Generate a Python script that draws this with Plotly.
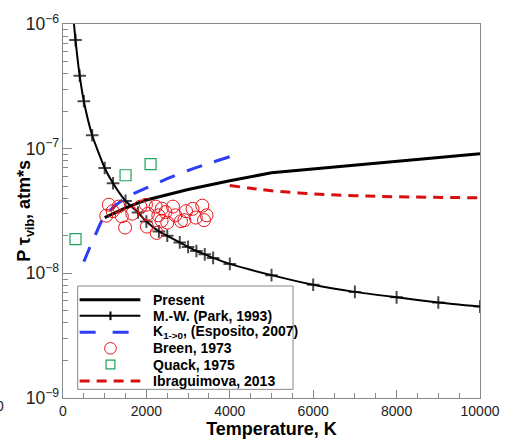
import plotly.graph_objects as go

# ---- data ----
park_T = [250, 300, 400, 500, 700, 1000, 1200, 1500, 1800, 2000, 2300, 2500, 2800, 3000,
          3200, 3400, 3600, 4000, 5000, 6000, 7000, 8000, 9000, 10000]
park_P = [1.12e-6, 7.43e-7, 3.85e-7, 2.40e-7, 1.28e-7, 7.0e-8, 5.28e-8, 3.81e-8, 3.08e-8, 2.60e-8,
          2.17e-8, 2.00e-8, 1.77e-8, 1.63e-8, 1.51e-8, 1.42e-8, 1.33e-8, 1.19e-8, 9.67e-9,
          8.09e-9, 7.10e-9, 6.42e-9, 5.84e-9, 5.41e-9]

present_T = [1000, 1500, 2000, 3000, 4000, 5000, 10000]
present_P = [2.8e-8, 3.35e-8, 3.88e-8, 4.70e-8, 5.53e-8, 6.41e-8, 9.1e-8]

esposito_T = [500, 600, 800, 1000, 1500, 2000, 2500, 3000, 3500, 4000]
esposito_P = [1.24e-8, 1.49e-8, 2.12e-8, 2.87e-8, 4.02e-8, 4.84e-8, 5.74e-8, 6.68e-8, 7.62e-8, 8.63e-8]

breen_T = [1098, 1192, 1333, 1489, 1411, 1661, 1856, 1989, 2036, 2012, 2247, 2223, 2286, 2364,
           2458, 2638, 2692, 2912, 2950, 3107, 3185, 3341, 3381, 3442, 1037, 2500, 2830, 2370]
breen_P = [3.55e-8, 3.15e-8, 3.43e-8, 2.33e-8, 2.87e-8, 3.01e-8, 3.43e-8, 3.55e-8, 3.01e-8, 2.37e-8,
           2.11e-8, 3.43e-8, 2.92e-8, 2.64e-8, 3.10e-8, 3.43e-8, 2.92e-8, 2.67e-8, 3.15e-8, 3.29e-8,
           2.80e-8, 3.49e-8, 2.67e-8, 2.92e-8, 2.90e-8, 2.55e-8, 2.62e-8, 3.30e-8]

quack_T = [300, 1500, 2100]
quack_P = [1.88e-8, 6.12e-8, 7.53e-8]

ibra_T = [4000, 4500, 5000, 6000, 7000, 8000, 10000]
ibra_P = [5.07e-8, 4.81e-8, 4.60e-8, 4.34e-8, 4.20e-8, 4.11e-8, 4.04e-8]

x_ticks = [0, 2000, 4000, 6000, 8000, 10000]

legend_names = ["Present", "M.-W. (Park, 1993)", "K<sub>1-&gt;0</sub>, (Esposito, 2007)",
                "Breen, 1973", "Quack, 1975", "Ibraguimova, 2013"]

# ---- styles ----
C_BLACK = "black"
C_BLUE = "#2f3cf5"
C_RED_O = "#e8141a"
C_GREEN = "#1fa35c"
C_RED_D = "#d80f0f"
DASH_BLUE = "16px,13px"
DASH_RED = "10px,7px"
axis_col = "#888888"

fig = go.Figure()

fig.add_trace(go.Scatter(x=present_T, y=present_P, mode="lines", name=legend_names[0],
                         line=dict(color=C_BLACK, width=3)))
park_sizes = [0 if t < 300 else 9 for t in park_T]
fig.add_trace(go.Scatter(x=park_T, y=park_P, mode="lines+markers", name=legend_names[1],
                         line=dict(color=C_BLACK, width=2, shape="spline", smoothing=0.6),
                         marker=dict(symbol="cross-thin", size=park_sizes, color=C_BLACK,
                                     line=dict(color=C_BLACK, width=2))))
fig.add_trace(go.Scatter(x=esposito_T, y=esposito_P, mode="lines", name=legend_names[2],
                         line=dict(color=C_BLUE, width=3, dash=DASH_BLUE, shape="spline")))
fig.add_trace(go.Scatter(x=breen_T, y=breen_P, mode="markers", name=legend_names[3],
                         marker=dict(symbol="circle-open", size=13, color=C_RED_O,
                                     line=dict(width=1))))
fig.add_trace(go.Scatter(x=quack_T, y=quack_P, mode="markers", name=legend_names[4],
                         marker=dict(symbol="square-open", size=11, color=C_GREEN,
                                     line=dict(width=1.2))))
fig.add_trace(go.Scatter(x=ibra_T, y=ibra_P, mode="lines", name=legend_names[5],
                         line=dict(color=C_RED_D, width=3, dash=DASH_RED, shape="spline")))

# plot-area geometry in pixels (for the hand-made legend box)
L, R, T, B = 63, 489, 16, 405


def px(x):
    return (x - L) / (R - L)


def py(y):
    return (B - y) / (B - T)


shapes = []
annots = []
# legend frame
shapes.append(dict(type="rect", xref="paper", yref="paper",
                   x0=px(78), x1=px(298), y0=py(396), y1=py(288.5),
                   line=dict(color=axis_col, width=1), fillcolor="white", layer="above"))
row_y = [302.7, 319.5, 336.5, 353.3, 370.2, 387.2]
xs0, xs1, xmid = 80, 142, 111.5
for i, name in enumerate(legend_names):
    yy = row_y[i]
    if i == 0:
        shapes.append(dict(type="line", xref="paper", yref="paper", x0=px(xs0), x1=px(xs1),
                           y0=py(yy), y1=py(yy), line=dict(color=C_BLACK, width=3), layer="above"))
    elif i == 1:
        shapes.append(dict(type="line", xref="paper", yref="paper", x0=px(xs0), x1=px(xs1),
                           y0=py(yy), y1=py(yy), line=dict(color=C_BLACK, width=2), layer="above"))
        shapes.append(dict(type="line", xref="paper", yref="paper", x0=px(xmid), x1=px(xmid),
                           y0=py(yy - 4.5), y1=py(yy + 4.5), line=dict(color=C_BLACK, width=2),
                           layer="above"))
    elif i == 2:
        shapes.append(dict(type="line", xref="paper", yref="paper", x0=px(xs0), x1=px(131),
                           y0=py(yy), y1=py(yy), line=dict(color=C_BLUE, width=3, dash="16px,17px"),
                           layer="above"))
    elif i == 3:
        shapes.append(dict(type="circle", xref="paper", yref="paper",
                           x0=px(xmid - 6), x1=px(xmid + 6), y0=py(yy + 6), y1=py(yy - 6),
                           line=dict(color=C_RED_O, width=1), layer="above"))
    elif i == 4:
        shapes.append(dict(type="rect", xref="paper", yref="paper",
                           x0=px(xmid - 4.5), x1=px(xmid + 4.5), y0=py(yy + 4.5), y1=py(yy - 4.5),
                           line=dict(color=C_GREEN, width=1.2), layer="above"))
    else:
        shapes.append(dict(type="line", xref="paper", yref="paper", x0=px(xs0), x1=px(xs1),
                           y0=py(yy), y1=py(yy), line=dict(color=C_RED_D, width=3, dash=DASH_RED),
                           layer="above"))
    annots.append(dict(text=name, xref="paper", yref="paper", x=px(153), y=py(yy),
                       xanchor="left", yanchor="middle", showarrow=False,
                       font=dict(size=14, weight="bold", color="black")))

# y-axis title
annots.append(dict(text="P τ<sub>vib</sub>, atm*s", xref="paper", yref="paper",
                   x=px(24), y=0.5, xanchor="center", yanchor="middle", textangle=-90,
                   showarrow=False, font=dict(size=18, weight="bold", color="black")))
# stray clipped label at far left
annots.append(dict(text="0", xref="paper", yref="paper", x=px(-1), y=py(413),
                   xanchor="center", yanchor="middle", showarrow=False,
                   font=dict(size=14, color="#222222")))

fig.update_layout(
    width=512, height=445,
    margin=dict(l=L, r=512 - R, t=T, b=445 - B),
    paper_bgcolor="white", plot_bgcolor="white",
    font=dict(family="Liberation Sans, Arial, sans-serif", size=14, color="#222222"),
    showlegend=False,
    shapes=shapes,
    annotations=annots,
    xaxis=dict(range=[0, 10000], tickvals=x_ticks, tickformat="d",
               ticks="inside", ticklen=8, tickcolor=axis_col,
               minor=dict(ticks="inside", dtick=500, ticklen=5, tickcolor=axis_col),
               showline=True, linecolor=axis_col, linewidth=1, mirror=True,
               showgrid=False, zeroline=False,
               title=dict(text="Temperature, K", font=dict(size=18, weight="bold", color="black"),
                          standoff=2)),
    yaxis=dict(type="log", range=[-9, -6], dtick=1, exponentformat="power",
               ticks="inside", ticklen=9, tickcolor=axis_col,
               minor=dict(ticks="inside", ticklen=5, tickcolor=axis_col, dtick="D1"),
               showline=True, linecolor=axis_col, linewidth=1, mirror=True,
               showgrid=False, zeroline=False),
)

fig.write_html("out.html")
